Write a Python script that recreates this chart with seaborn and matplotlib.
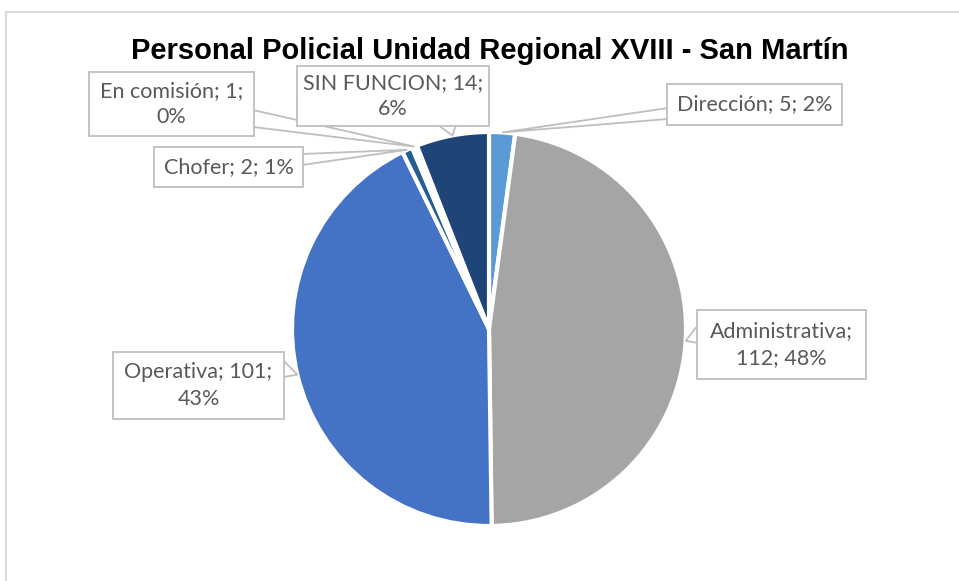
import numpy as np
import seaborn as sns
import matplotlib.pyplot as plt
from matplotlib.patches import Rectangle, Polygon

sns.set_theme(style="white")
plt.rcParams['font.family'] = ['Lato', 'DejaVu Sans']

# datos
categorias = ['Dirección', 'Administrativa', 'Operativa', 'Chofer', 'En comisión', 'SIN FUNCION']
valores = [5, 112, 101, 2, 1, 14]
porcentajes = ['2%', '48%', '43%', '1%', '0%', '6%']
colores = ['#5B9BD5', '#A5A5A5', '#4472C4', '#255E91', '#FFFFFF', '#1F4477']
titulo = 'Personal Policial Unidad Regional XVIII - San Martín'

H = 581


def fy(y):
    # pixel de imagen (y hacia abajo) -> coordenada de datos
    return H - y


# cajas de etiqueta: (x0, y0, x1, y1), texto, base del puntero
cajas = {
    'Dirección': ((667, 84, 842, 125), 'Dirección; 5; 2%', [(668, 108), (668, 119)]),
    'Administrativa': ((697, 310, 866, 379), 'Administrativa;\n112; 48%', [(698, 325), (698, 343)]),
    'Operativa': ((113, 352, 284, 419), 'Operativa; 101;\n43%', [(283, 360), (283, 377)]),
    'Chofer': ((154, 147, 303, 187), 'Chofer; 2; 1%', [(302, 154), (302, 165)]),
    'En comisión': ((89, 72, 254, 136), 'En comisión; 1;\n0%', [(253, 110), (253, 127)]),
    'SIN FUNCION': ((297, 66, 489, 126), 'SIN FUNCION; 14;\n6%', [(438, 125), (456, 125)]),
}

fig = plt.figure(figsize=(9.59, 5.81), dpi=100)
ax = fig.add_axes([0, 0, 1, 1])

# marco del gráfico
ax.plot([6, 6, 959], [0, fy(12), fy(12)], color='#D9D9D9', lw=1.5, solid_capstyle='butt')

cx, cy, r = 489, fy(329), 197
wedges, _ = ax.pie(valores, colors=colores, startangle=90, counterclock=False,
                   center=(cx, cy), radius=r, frame=True,
                   wedgeprops=dict(edgecolor='white', linewidth=3))
ax.set_xlim(0, 959)
ax.set_ylim(0, H)
ax.set_aspect('equal')
ax.axis('off')

for w, cat in zip(wedges, categorias):
    ang = np.deg2rad((w.theta1 + w.theta2) / 2)
    tip = (cx + r * np.cos(ang), cy + r * np.sin(ang))
    (x0, y0, x1, y1), txt, base = cajas[cat]
    pts = [(base[0][0], fy(base[0][1])), tip, (base[1][0], fy(base[1][1]))]
    ax.add_patch(Polygon(pts, closed=True, facecolor='white', edgecolor='#BFBFBF', lw=1.3, zorder=5))
    ax.add_patch(Rectangle((x0, fy(y1)), x1 - x0, y1 - y0, facecolor='white',
                           edgecolor='#BFBFBF', lw=1.3, zorder=6))
    ax.text((x0 + x1) / 2, fy((y0 + y1) / 2), txt, ha='center', va='center',
            fontsize=15.5, color='#595959', linespacing=1.4, zorder=7)

ax.text(490, fy(51), titulo, ha='center', va='center', fontsize=21,
        fontweight='bold', family=['Liberation Sans', 'DejaVu Sans'], color='black')

fig.savefig('out.png', dpi=100)
